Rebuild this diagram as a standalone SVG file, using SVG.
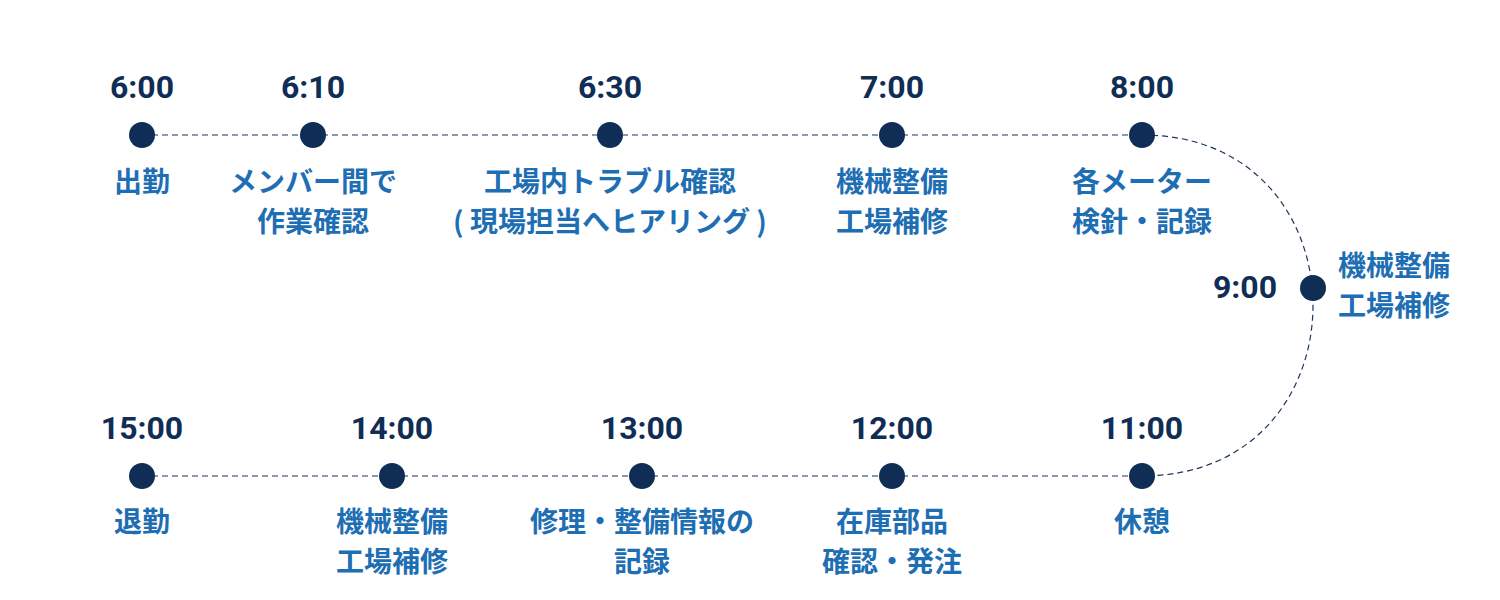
<svg xmlns="http://www.w3.org/2000/svg" width="1500" height="600" viewBox="0 0 1500 600">
<style>
.bg{fill:#ffffff}
.dot{fill:#102d55}
.time{font-family:"Roboto","Liberation Sans",Arial,sans-serif;font-weight:700;font-size:32px;fill:#102d55;text-anchor:middle}
.lbl{font-family:"Noto Sans CJK JP","Noto Sans CJK SC",sans-serif;font-weight:700;font-size:28px;fill:#1e6eb4;text-anchor:middle}
.conn{fill:none;stroke:#1d3557;stroke-width:1.2;stroke-dasharray:6 4}
</style>
<rect class="bg" x="0" y="0" width="1500" height="600"/>
<g id="connectors">
<line class="conn" x1="142" y1="135" x2="1142" y2="135"/>
<line class="conn" x1="142" y1="476" x2="1142" y2="476"/>
<path class="conn" d="M1142,135 C1370,135 1370,476 1142,476"/>
</g>
<g id="n0600">
<circle class="dot" cx="142" cy="135" r="13"/>
<text class="time" x="142" y="98">6:00</text>
<text class="lbl" x="142" y="192">出勤</text>
</g>
<g id="n0610">
<circle class="dot" cx="313" cy="135" r="13"/>
<text class="time" x="313" y="98">6:10</text>
<text class="lbl" x="313" y="192">メンバー間で</text>
<text class="lbl" x="313" y="232">作業確認</text>
</g>
<g id="n0630">
<circle class="dot" cx="610" cy="135" r="13"/>
<text class="time" x="610" y="98">6:30</text>
<text class="lbl" x="610" y="192">工場内トラブル確認</text>
<text class="lbl" x="610" y="232">( 現場担当へヒアリング )</text>
</g>
<g id="n0700">
<circle class="dot" cx="892" cy="135" r="13"/>
<text class="time" x="892" y="98">7:00</text>
<text class="lbl" x="892" y="192">機械整備</text>
<text class="lbl" x="892" y="232">工場補修</text>
</g>
<g id="n0800">
<circle class="dot" cx="1142" cy="135" r="13"/>
<text class="time" x="1142" y="98">8:00</text>
<text class="lbl" x="1142" y="192">各メーター</text>
<text class="lbl" x="1142" y="232">検針・記録</text>
</g>
<g id="n0900">
<circle class="dot" cx="1313" cy="288" r="13"/>
<text class="time" x="1277" y="298" style="text-anchor:end">9:00</text>
<text class="lbl" x="1338" y="276" style="text-anchor:start">機械整備</text>
<text class="lbl" x="1338" y="316" style="text-anchor:start">工場補修</text>
</g>
<g id="n1100">
<circle class="dot" cx="1142" cy="476" r="13"/>
<text class="time" x="1142" y="439">11:00</text>
<text class="lbl" x="1142" y="532">休憩</text>
</g>
<g id="n1200">
<circle class="dot" cx="892" cy="476" r="13"/>
<text class="time" x="892" y="439">12:00</text>
<text class="lbl" x="892" y="532">在庫部品</text>
<text class="lbl" x="892" y="572">確認・発注</text>
</g>
<g id="n1300">
<circle class="dot" cx="642" cy="476" r="13"/>
<text class="time" x="642" y="439">13:00</text>
<text class="lbl" x="642" y="532">修理・整備情報の</text>
<text class="lbl" x="642" y="572">記録</text>
</g>
<g id="n1400">
<circle class="dot" cx="392" cy="476" r="13"/>
<text class="time" x="392" y="439">14:00</text>
<text class="lbl" x="392" y="532">機械整備</text>
<text class="lbl" x="392" y="572">工場補修</text>
</g>
<g id="n1500">
<circle class="dot" cx="142" cy="476" r="13"/>
<text class="time" x="142" y="439">15:00</text>
<text class="lbl" x="142" y="532">退勤</text>
</g>
</svg>
